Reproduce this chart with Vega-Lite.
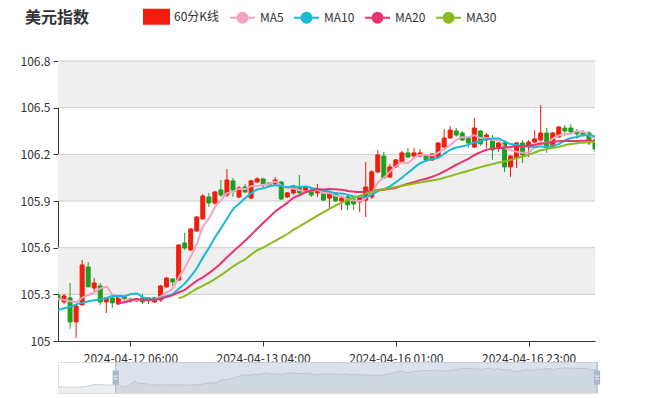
{
"$schema": "https://vega.github.io/schema/vega-lite/v6.json",
"padding": {"left": 20, "top": 3, "right": 5, "bottom": 5},
"background": "white",
"config": {"font": "Noto Sans CJK SC", "view": {"stroke": null}},
"title": {"text": "美元指数", "anchor": "start", "frame": "bounds", "fontSize": 16, "fontWeight": "bold", "color": "#333", "offset": -23, "dx": 5},
"bounds": "flush",
"spacing": 21,
"datasets": {
"k": [
{"t":"2024-04-11 18:00","o":105.296,"c":105.264,"h":105.315,"l":105.245,"MA5":105.27,"MA10":105.20,"MA20":null,"MA30":null},
{"t":"2024-04-11 19:00","o":105.251,"c":105.290,"h":105.303,"l":105.238,"MA5":105.265,"MA10":105.21,"MA20":null,"MA30":null},
{"t":"2024-04-11 20:00","o":105.277,"c":105.123,"h":105.373,"l":105.078,"MA5":105.255,"MA10":105.22,"MA20":null,"MA30":null},
{"t":"2024-04-11 21:00","o":105.123,"c":105.225,"h":105.232,"l":105.020,"MA5":105.25,"MA10":105.235,"MA20":null,"MA30":null},
{"t":"2024-04-11 22:00","o":105.232,"c":105.489,"h":105.521,"l":105.232,"MA5":105.278,"MA10":105.245,"MA20":null,"MA30":null},
{"t":"2024-04-11 23:00","o":105.476,"c":105.348,"h":105.508,"l":105.348,"MA5":105.295,"MA10":105.255,"MA20":null,"MA30":null},
{"t":"2024-04-12 00:00","o":105.341,"c":105.373,"h":105.405,"l":105.315,"MA5":105.312,"MA10":105.262,"MA20":null,"MA30":null},
{"t":"2024-04-12 01:00","o":105.354,"c":105.251,"h":105.373,"l":105.232,"MA5":105.337,"MA10":105.268,"MA20":null,"MA30":null},
{"t":"2024-04-12 02:00","o":105.251,"c":105.277,"h":105.277,"l":105.180,"MA5":105.348,"MA10":105.275,"MA20":null,"MA30":null},
{"t":"2024-04-12 03:00","o":105.277,"c":105.245,"h":105.283,"l":105.213,"MA5":105.299,"MA10":105.289,"MA20":null,"MA30":null},
{"t":"2024-04-12 04:00","o":105.238,"c":105.283,"h":105.287,"l":105.232,"MA5":105.286,"MA10":105.29,"MA20":105.245,"MA30":null},
{"t":"2024-04-12 05:00","o":105.283,"c":105.264,"h":105.290,"l":105.245,"MA5":105.264,"MA10":105.288,"MA20":105.249,"MA30":null},
{"t":"2024-04-12 06:00","o":105.270,"c":105.258,"h":105.277,"l":105.245,"MA5":105.265,"MA10":105.301,"MA20":105.26,"MA30":null},
{"t":"2024-04-12 07:00","o":105.258,"c":105.270,"h":105.277,"l":105.251,"MA5":105.264,"MA10":105.306,"MA20":105.27,"MA30":null},
{"t":"2024-04-12 08:00","o":105.277,"c":105.251,"h":105.303,"l":105.238,"MA5":105.265,"MA10":105.282,"MA20":105.264,"MA30":null},
{"t":"2024-04-12 09:00","o":105.258,"c":105.277,"h":105.280,"l":105.238,"MA5":105.264,"MA10":105.275,"MA20":105.265,"MA30":null},
{"t":"2024-04-12 10:00","o":105.251,"c":105.277,"h":105.283,"l":105.245,"MA5":105.267,"MA10":105.266,"MA20":105.264,"MA30":null},
{"t":"2024-04-12 11:00","o":105.264,"c":105.354,"h":105.360,"l":105.251,"MA5":105.286,"MA10":105.276,"MA20":105.272,"MA30":null},
{"t":"2024-04-12 12:00","o":105.348,"c":105.405,"h":105.412,"l":105.341,"MA5":105.313,"MA10":105.289,"MA20":105.282,"MA30":null},
{"t":"2024-04-12 13:00","o":105.399,"c":105.380,"h":105.405,"l":105.354,"MA5":105.339,"MA10":105.302,"MA20":105.296,"MA30":null},
{"t":"2024-04-12 14:00","o":105.392,"c":105.617,"h":105.624,"l":105.386,"MA5":105.407,"MA10":105.336,"MA20":105.313,"MA30":105.275},
{"t":"2024-04-12 15:00","o":105.630,"c":105.598,"h":105.695,"l":105.585,"MA5":105.471,"MA10":105.369,"MA20":105.329,"MA30":105.289},
{"t":"2024-04-12 16:00","o":105.585,"c":105.720,"h":105.727,"l":105.579,"MA5":105.544,"MA10":105.415,"MA20":105.358,"MA30":105.312},
{"t":"2024-04-12 17:00","o":105.707,"c":105.797,"h":105.804,"l":105.701,"MA5":105.622,"MA10":105.468,"MA20":105.387,"MA30":105.336},
{"t":"2024-04-12 18:00","o":105.785,"c":105.932,"h":105.945,"l":105.778,"MA5":105.733,"MA10":105.536,"MA20":105.409,"MA30":105.354},
{"t":"2024-04-12 19:00","o":105.926,"c":105.887,"h":105.952,"l":105.862,"MA5":105.787,"MA10":105.597,"MA20":105.436,"MA30":105.376},
{"t":"2024-04-12 20:00","o":105.887,"c":105.958,"h":105.964,"l":105.875,"MA5":105.859,"MA10":105.665,"MA20":105.466,"MA30":105.398},
{"t":"2024-04-12 21:00","o":105.971,"c":105.939,"h":106.035,"l":105.926,"MA5":105.903,"MA10":105.724,"MA20":105.5,"MA30":105.423},
{"t":"2024-04-12 22:00","o":105.939,"c":106.035,"h":106.106,"l":105.926,"MA5":105.950,"MA10":105.786,"MA20":105.538,"MA30":105.45},
{"t":"2024-04-12 23:00","o":106.029,"c":105.971,"h":106.048,"l":105.926,"MA5":105.958,"MA10":105.846,"MA20":105.574,"MA30":105.479},
{"t":"2024-04-13 00:00","o":105.926,"c":105.984,"h":105.997,"l":105.919,"MA5":105.977,"MA10":105.882,"MA20":105.609,"MA30":105.503},
{"t":"2024-04-13 01:00","o":105.990,"c":105.958,"h":106.010,"l":105.952,"MA5":105.977,"MA10":105.918,"MA20":105.644,"MA30":105.525},
{"t":"2024-04-13 02:00","o":105.919,"c":106.029,"h":106.035,"l":105.913,"MA5":105.995,"MA10":105.949,"MA20":105.682,"MA30":105.555},
{"t":"2024-04-13 03:00","o":106.022,"c":106.042,"h":106.054,"l":106.016,"MA5":105.997,"MA10":105.974,"MA20":105.721,"MA30":105.583},
{"t":"2024-04-13 04:00","o":106.042,"c":106.010,"h":106.048,"l":105.990,"MA5":106.005,"MA10":105.982,"MA20":105.759,"MA30":105.6},
{"t":"2024-04-15 04:00","o":106.016,"c":106.003,"h":106.016,"l":105.997,"MA5":106.008,"MA10":105.993,"MA20":105.795,"MA30":105.622},
{"t":"2024-04-15 05:00","o":106.010,"c":106.035,"h":106.054,"l":105.997,"MA5":106.024,"MA10":106.001,"MA20":105.833,"MA30":105.644},
{"t":"2024-04-15 06:00","o":106.022,"c":105.913,"h":106.029,"l":105.906,"MA5":106.001,"MA10":105.998,"MA20":105.861,"MA30":105.666},
{"t":"2024-04-15 07:00","o":105.926,"c":105.952,"h":105.958,"l":105.919,"MA5":105.983,"MA10":105.99,"MA20":105.888,"MA30":105.688},
{"t":"2024-04-15 08:00","o":105.952,"c":105.997,"h":106.003,"l":105.939,"MA5":105.980,"MA10":105.993,"MA20":105.92,"MA30":105.714},
{"t":"2024-04-15 09:00","o":105.990,"c":105.952,"h":106.067,"l":105.939,"MA5":105.970,"MA10":105.989,"MA20":105.936,"MA30":105.736},
{"t":"2024-04-15 10:00","o":105.958,"c":105.990,"h":105.997,"l":105.952,"MA5":105.961,"MA10":105.993,"MA20":105.956,"MA30":105.76},
{"t":"2024-04-15 11:00","o":105.971,"c":105.939,"h":105.984,"l":105.926,"MA5":105.966,"MA10":105.984,"MA20":105.967,"MA30":105.783},
{"t":"2024-04-15 12:00","o":105.952,"c":105.971,"h":106.010,"l":105.926,"MA5":105.970,"MA10":105.977,"MA20":105.976,"MA30":105.806},
{"t":"2024-04-15 13:00","o":105.958,"c":105.906,"h":105.971,"l":105.900,"MA5":105.952,"MA10":105.966,"MA20":105.974,"MA30":105.828},
{"t":"2024-04-15 14:00","o":105.919,"c":105.952,"h":105.958,"l":105.855,"MA5":105.952,"MA10":105.961,"MA20":105.977,"MA30":105.85},
{"t":"2024-04-15 15:00","o":105.952,"c":105.900,"h":105.958,"l":105.894,"MA5":105.934,"MA10":105.948,"MA20":105.975,"MA30":105.871},
{"t":"2024-04-15 16:00","o":105.900,"c":105.919,"h":105.926,"l":105.842,"MA5":105.930,"MA10":105.948,"MA20":105.973,"MA30":105.89},
{"t":"2024-04-15 17:00","o":105.926,"c":105.875,"h":105.939,"l":105.842,"MA5":105.910,"MA10":105.94,"MA20":105.965,"MA30":105.905},
{"t":"2024-04-15 18:00","o":105.913,"c":105.881,"h":105.926,"l":105.842,"MA5":105.905,"MA10":105.929,"MA20":105.961,"MA30":105.923},
{"t":"2024-04-15 19:00","o":105.894,"c":105.926,"h":105.932,"l":105.830,"MA5":105.900,"MA10":105.926,"MA20":105.958,"MA30":105.932},
{"t":"2024-04-15 20:00","o":105.906,"c":105.990,"h":106.151,"l":105.797,"MA5":105.918,"MA10":105.926,"MA20":105.96,"MA30":105.946},
{"t":"2024-04-15 21:00","o":105.926,"c":106.087,"h":106.099,"l":105.913,"MA5":105.952,"MA10":105.941,"MA20":105.963,"MA30":105.958},
{"t":"2024-04-15 22:00","o":106.087,"c":106.196,"h":106.228,"l":106.080,"MA5":106.016,"MA10":105.963,"MA20":105.97,"MA30":105.971},
{"t":"2024-04-15 23:00","o":106.189,"c":106.048,"h":106.215,"l":106.042,"MA5":106.049,"MA10":105.977,"MA20":105.972,"MA30":105.975},
{"t":"2024-04-16 00:00","o":106.054,"c":106.119,"h":106.138,"l":106.048,"MA5":106.088,"MA10":105.994,"MA20":105.978,"MA30":105.983},
{"t":"2024-04-16 01:00","o":106.119,"c":106.164,"h":106.170,"l":106.112,"MA5":106.123,"MA10":106.021,"MA20":105.985,"MA30":105.99},
{"t":"2024-04-16 02:00","o":106.151,"c":106.209,"h":106.222,"l":106.144,"MA5":106.147,"MA10":106.05,"MA20":105.999,"MA30":105.999},
{"t":"2024-04-16 03:00","o":106.209,"c":106.183,"h":106.241,"l":106.177,"MA5":106.145,"MA10":106.081,"MA20":106.011,"MA30":106.004},
{"t":"2024-04-16 04:00","o":106.189,"c":106.209,"h":106.241,"l":106.183,"MA5":106.177,"MA10":106.113,"MA20":106.021,"MA30":106.012},
{"t":"2024-04-16 05:00","o":106.189,"c":106.209,"h":106.234,"l":106.183,"MA5":106.195,"MA10":106.142,"MA20":106.034,"MA30":106.019},
{"t":"2024-04-16 06:00","o":106.196,"c":106.164,"h":106.202,"l":106.151,"MA5":106.195,"MA10":106.159,"MA20":106.043,"MA30":106.026},
{"t":"2024-04-16 07:00","o":106.164,"c":106.202,"h":106.209,"l":106.157,"MA5":106.193,"MA10":106.17,"MA20":106.056,"MA30":106.032},
{"t":"2024-04-16 08:00","o":106.183,"c":106.273,"h":106.279,"l":106.177,"MA5":106.211,"MA10":106.178,"MA20":106.071,"MA30":106.039},
{"t":"2024-04-16 09:00","o":106.247,"c":106.305,"h":106.363,"l":106.241,"MA5":106.231,"MA10":106.204,"MA20":106.091,"MA30":106.049},
{"t":"2024-04-16 10:00","o":106.305,"c":106.356,"h":106.382,"l":106.299,"MA5":106.26,"MA10":106.228,"MA20":106.111,"MA30":106.061},
{"t":"2024-04-16 11:00","o":106.350,"c":106.324,"h":106.369,"l":106.312,"MA5":106.292,"MA10":106.244,"MA20":106.133,"MA30":106.071},
{"t":"2024-04-16 12:00","o":106.337,"c":106.292,"h":106.350,"l":106.286,"MA5":106.31,"MA10":106.252,"MA20":106.151,"MA30":106.083},
{"t":"2024-04-16 13:00","o":106.305,"c":106.273,"h":106.312,"l":106.241,"MA5":106.31,"MA10":106.261,"MA20":106.171,"MA30":106.094},
{"t":"2024-04-16 14:00","o":106.247,"c":106.369,"h":106.434,"l":106.241,"MA5":106.323,"MA10":106.277,"MA20":106.195,"MA30":106.106},
{"t":"2024-04-16 15:00","o":106.350,"c":106.267,"h":106.356,"l":106.254,"MA5":106.305,"MA10":106.283,"MA20":106.213,"MA30":106.117},
{"t":"2024-04-16 16:00","o":106.292,"c":106.324,"h":106.337,"l":106.241,"MA5":106.305,"MA10":106.299,"MA20":106.229,"MA30":106.128},
{"t":"2024-04-16 17:00","o":106.292,"c":106.228,"h":106.324,"l":106.164,"MA5":106.292,"MA10":106.301,"MA20":106.236,"MA30":106.137},
{"t":"2024-04-16 18:00","o":106.247,"c":106.273,"h":106.279,"l":106.215,"MA5":106.292,"MA10":106.301,"MA20":106.24,"MA30":106.147},
{"t":"2024-04-16 19:00","o":106.273,"c":106.119,"h":106.292,"l":106.087,"MA5":106.242,"MA10":106.283,"MA20":106.244,"MA30":106.155},
{"t":"2024-04-16 20:00","o":106.119,"c":106.189,"h":106.196,"l":106.055,"MA5":106.227,"MA10":106.266,"MA20":106.247,"MA30":106.163},
{"t":"2024-04-16 21:00","o":106.177,"c":106.273,"h":106.279,"l":106.112,"MA5":106.216,"MA10":106.261,"MA20":106.253,"MA30":106.175},
{"t":"2024-04-16 22:00","o":106.273,"c":106.196,"h":106.292,"l":106.144,"MA5":106.21,"MA10":106.251,"MA20":106.252,"MA30":106.184},
{"t":"2024-04-16 23:00","o":106.247,"c":106.279,"h":106.292,"l":106.183,"MA5":106.211,"MA10":106.252,"MA20":106.257,"MA30":106.198},
{"t":"2024-04-17 00:00","o":106.279,"c":106.299,"h":106.356,"l":106.273,"MA5":106.247,"MA10":106.245,"MA20":106.261,"MA30":106.212},
{"t":"2024-04-17 01:00","o":106.292,"c":106.337,"h":106.517,"l":106.279,"MA5":106.277,"MA10":106.252,"MA20":106.268,"MA30":106.226},
{"t":"2024-04-17 02:00","o":106.337,"c":106.254,"h":106.369,"l":106.209,"MA5":106.273,"MA10":106.245,"MA20":106.272,"MA30":106.234},
{"t":"2024-04-17 03:00","o":106.247,"c":106.337,"h":106.344,"l":106.241,"MA5":106.301,"MA10":106.256,"MA20":106.279,"MA30":106.242},
{"t":"2024-04-17 04:00","o":106.312,"c":106.376,"h":106.382,"l":106.305,"MA5":106.321,"MA10":106.266,"MA20":106.284,"MA30":106.248},
{"t":"2024-04-17 05:00","o":106.369,"c":106.350,"h":106.389,"l":106.318,"MA5":106.331,"MA10":106.289,"MA20":106.286,"MA30":106.259},
{"t":"2024-04-17 06:00","o":106.369,"c":106.344,"h":106.395,"l":106.337,"MA5":106.332,"MA10":106.305,"MA20":106.286,"MA30":106.266},
{"t":"2024-04-17 07:00","o":106.344,"c":106.331,"h":106.363,"l":106.299,"MA5":106.348,"MA10":106.311,"MA20":106.286,"MA30":106.272},
{"t":"2024-04-17 08:00","o":106.337,"c":106.324,"h":106.356,"l":106.312,"MA5":106.345,"MA10":106.323,"MA20":106.287,"MA30":106.275},
{"t":"2024-04-17 09:00","o":106.337,"c":106.273,"h":106.350,"l":106.260,"MA5":106.324,"MA10":106.323,"MA20":106.288,"MA30":106.279},
{"t":"2024-04-17 10:00","o":106.292,"c":106.234,"h":106.305,"l":106.215,"MA5":106.301,"MA10":106.316,"MA20":106.281,"MA30":106.279}
],
"sh": [
{"n":0,"c":105.15},{"n":1,"c":105.12},{"n":2,"c":105.13},{"n":3,"c":105.12},{"n":4,"c":105.14},{"n":5,"c":105.15},{"n":6,"c":105.25},{"n":7,"c":105.30},{"n":8,"c":105.28},{"n":9,"c":105.26},
{"n":10,"c":105.264},{"n":11,"c":105.290},{"n":12,"c":105.123},{"n":13,"c":105.225},{"n":14,"c":105.489},{"n":15,"c":105.348},{"n":16,"c":105.373},{"n":17,"c":105.251},{"n":18,"c":105.277},{"n":19,"c":105.245},
{"n":20,"c":105.283},{"n":21,"c":105.264},{"n":22,"c":105.258},{"n":23,"c":105.270},{"n":24,"c":105.251},{"n":25,"c":105.277},{"n":26,"c":105.277},{"n":27,"c":105.354},{"n":28,"c":105.405},{"n":29,"c":105.380},
{"n":30,"c":105.617},{"n":31,"c":105.598},{"n":32,"c":105.720},{"n":33,"c":105.797},{"n":34,"c":105.932},{"n":35,"c":105.887},{"n":36,"c":105.958},{"n":37,"c":105.939},{"n":38,"c":106.035},{"n":39,"c":105.971},
{"n":40,"c":105.984},{"n":41,"c":105.958},{"n":42,"c":106.029},{"n":43,"c":106.042},{"n":44,"c":106.010},{"n":45,"c":106.003},{"n":46,"c":106.035},{"n":47,"c":105.913},{"n":48,"c":105.952},{"n":49,"c":105.997},
{"n":50,"c":105.952},{"n":51,"c":105.990},{"n":52,"c":105.939},{"n":53,"c":105.971},{"n":54,"c":105.906},{"n":55,"c":105.952},{"n":56,"c":105.900},{"n":57,"c":105.919},{"n":58,"c":105.875},{"n":59,"c":105.881},
{"n":60,"c":105.926},{"n":61,"c":105.990},{"n":62,"c":106.087},{"n":63,"c":106.196},{"n":64,"c":106.048},{"n":65,"c":106.119},{"n":66,"c":106.164},{"n":67,"c":106.209},{"n":68,"c":106.183},{"n":69,"c":106.209},
{"n":70,"c":106.209},{"n":71,"c":106.164},{"n":72,"c":106.202},{"n":73,"c":106.273},{"n":74,"c":106.305},{"n":75,"c":106.356},{"n":76,"c":106.324},{"n":77,"c":106.292},{"n":78,"c":106.273},{"n":79,"c":106.369},
{"n":80,"c":106.267},{"n":81,"c":106.324},{"n":82,"c":106.228},{"n":83,"c":106.273},{"n":84,"c":106.119},{"n":85,"c":106.189},{"n":86,"c":106.273},{"n":87,"c":106.196},{"n":88,"c":106.279},{"n":89,"c":106.299},
{"n":90,"c":106.337},{"n":91,"c":106.254},{"n":92,"c":106.337},{"n":93,"c":106.376},{"n":94,"c":106.350},{"n":95,"c":106.344},{"n":96,"c":106.331},{"n":97,"c":106.324},{"n":98,"c":106.273},{"n":99,"c":106.234}
]
},
"vconcat": [
{
"width": 537, "height": 280,
"layer": [
{"data": {"values": [{"lo":105.3,"hi":105.6},{"lo":105.9,"hi":106.2},{"lo":106.5,"hi":106.8}]},
 "mark": {"type": "rect", "color": "#efefef"},
 "encoding": {
  "y": {"field": "lo", "type": "quantitative", "scale": {"domain": [105, 106.8], "nice": false, "zero": false},
        "axis": {"values": [105, 105.3, 105.6, 105.9, 106.2, 106.5, 106.8], "format": ".1~f", "title": null, "grid": false, "domainColor": "#333", "tickColor": "#333", "tickSize": 5, "labelPadding": 3, "labelColor": "#333", "labelFontSize": 12}},
  "y2": {"field": "hi"}}},
{"data": {"values": [{"g":105.3},{"g":105.6},{"g":105.9},{"g":106.2},{"g":106.5},{"g":106.8}]},
 "mark": {"type": "rule", "color": "#cccccc", "strokeWidth": 1},
 "encoding": {"y": {"field": "g", "type": "quantitative"}}},
{"data": {"name": "k"},
 "mark": {"type": "rule", "strokeWidth": 1, "clip": true},
 "encoding": {
  "x": {"field": "t", "type": "ordinal", "scale": {"type": "point", "padding": 0},
        "axis": {"values": ["2024-04-12 06:00", "2024-04-13 04:00", "2024-04-16 01:00", "2024-04-16 23:00"], "title": null, "labelAngle": 0, "grid": false, "domainColor": "#333", "tickColor": "#333", "tickSize": 5, "labelPadding": 7, "labelColor": "#333", "labelFontSize": 12}},
  "y": {"field": "l", "type": "quantitative"},
  "y2": {"field": "h"},
  "color": {"condition": {"test": "datum.c >= datum.o", "value": "#f01c0c"}, "value": "#1e9f1e"}}},
{"data": {"name": "k"},
 "mark": {"type": "bar", "size": 4, "strokeWidth": 1, "clip": true},
 "encoding": {
  "x": {"field": "t", "type": "ordinal"},
  "y": {"field": "o", "type": "quantitative"},
  "y2": {"field": "c"},
  "color": {"condition": {"test": "datum.c >= datum.o", "value": "#f01c0c"}, "value": "#1e9f1e"},
  "stroke": {"condition": {"test": "datum.c >= datum.o", "value": "#f01c0c"}, "value": "#1e9f1e"}}},
{"data": {"name": "k"},
 "transform": [{"fold": ["MA5", "MA10", "MA20", "MA30"], "as": ["s", "v"]}],
 "mark": {"type": "line", "strokeWidth": 2, "interpolate": "monotone", "clip": true},
 "encoding": {
  "x": {"field": "t", "type": "ordinal"},
  "y": {"field": "v", "type": "quantitative"},
  "color": {"field": "s", "type": "nominal",
   "scale": {"domain": ["60分K线", "MA5", "MA10", "MA20", "MA30"], "range": ["#f01c0c", "#f5a3c0", "#1ab9d8", "#e93471", "#8bbb1f"]},
   "legend": {"orient": "none", "legendX": 85, "legendY": -58, "direction": "horizontal", "title": null,
    "symbolSize": 625, "symbolStrokeWidth": 2, "labelFontSize": 12, "labelColor": "#333", "labelOffset": 4, "columnPadding": 6,
    "encode": {"symbols": {"update": {
     "shape": {"signal": "datum.label === '60分K线' ? 'M-1,-0.56H1V0.56H-1Z' : 'M-1,0H1M0.4,0A0.4,0.4 0 1 1 -0.4,0A0.4,0.4 0 1 1 0.4,0'"},
     "fill": {"signal": "datum.label === '60分K线' ? '#f01c0c' : datum.label === 'MA5' ? '#f5a3c0' : datum.label === 'MA10' ? '#1ab9d8' : datum.label === 'MA20' ? '#e93471' : '#8bbb1f'"},
     "stroke": {"signal": "datum.label === '60分K线' ? '#f01c0c' : datum.label === 'MA5' ? '#f5a3c0' : datum.label === 'MA10' ? '#1ab9d8' : datum.label === 'MA20' ? '#e93471' : '#8bbb1f'"},
     "opacity": {"value": 1}}}}}}}}
]
},
{
"width": 539, "height": 31,
"view": {"stroke": "#dddddd"},
"data": {"name": "sh"},
"layer": [
{"mark": {"type": "area", "color": "#eceef0", "clip": true},
 "encoding": {
  "x": {"field": "n", "type": "quantitative", "scale": {"domain": [0, 99], "nice": false, "zero": false}, "axis": null},
  "y": {"field": "c", "type": "quantitative", "scale": {"domain": [104.743, 106.753], "nice": false, "zero": false}, "axis": null}}},
{"mark": {"type": "line", "color": "#b9c0c6", "strokeWidth": 0.7, "clip": true},
 "encoding": {
  "x": {"field": "n", "type": "quantitative"},
  "y": {"field": "c", "type": "quantitative"}}},
{"data": {"values": [{"a": 10.6, "b": 99}]},
 "mark": {"type": "rect", "color": "#a7b7cc", "opacity": 0.4},
 "encoding": {"x": {"field": "a", "type": "quantitative"}, "x2": {"field": "b"}}},
{"data": {"values": [{"n": 10.6}, {"n": 99}]},
 "mark": {"type": "rule", "color": "#a7b7cc", "strokeWidth": 1},
 "encoding": {"x": {"field": "n", "type": "quantitative"}}},
{"data": {"values": [{"n": 10.6}, {"n": 99}]},
 "mark": {"type": "point", "shape": "M-0.45,-1H0.45V1H-0.45Z", "size": 196, "filled": true, "color": "#a7b7cc", "opacity": 1},
 "encoding": {"x": {"field": "n", "type": "quantitative"}, "y": {"datum": 105.748, "type": "quantitative"}}},
{"data": {"values": [{"n": 10.6}, {"n": 99}]},
 "mark": {"type": "point", "shape": "M-0.25,-0.2H0.25M-0.25,0.2H0.25", "size": 196, "filled": false, "color": "#ffffff", "strokeWidth": 1, "opacity": 1},
 "encoding": {"x": {"field": "n", "type": "quantitative"}, "y": {"datum": 105.748, "type": "quantitative"}}}
]
}
]
}
